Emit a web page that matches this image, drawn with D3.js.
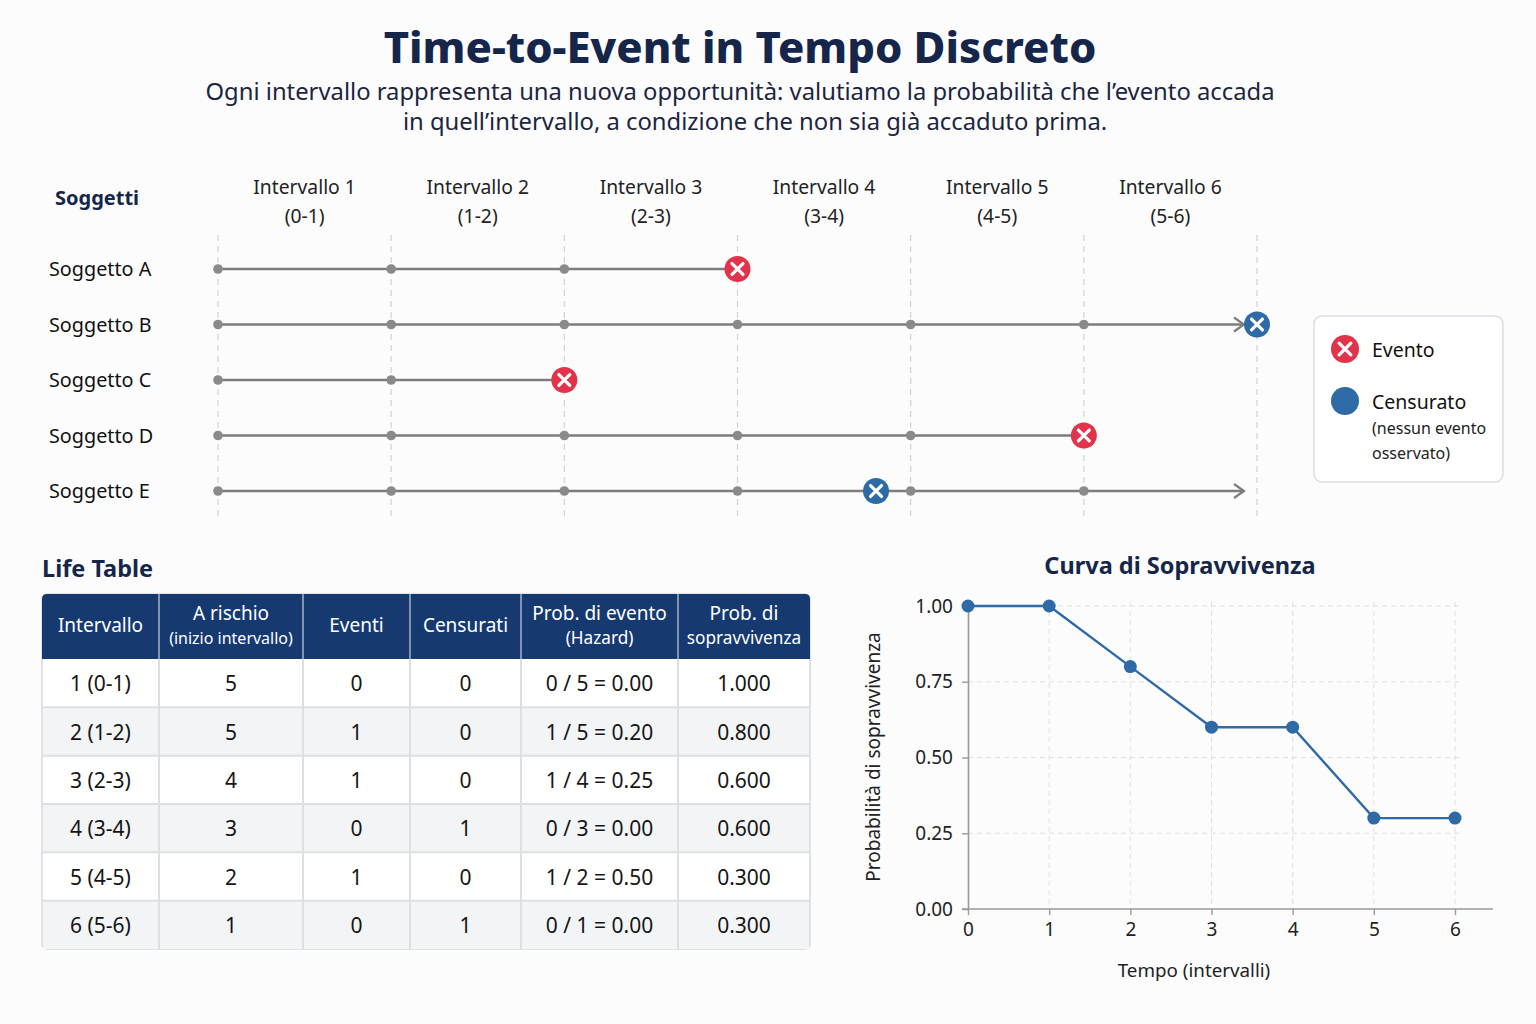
<!DOCTYPE html>
<meta charset="utf-8">
<script src="https://d3js.org/d3.v7.min.js"></script>
<style>
  body { margin: 0; background: #fcfcfd; }
  svg text { font-family: "Noto Sans", Lato, sans-serif; }
</style>
<body>
  <div id="container"></div>
</body>
<script>
    // --- data ---
    var intervalNames = ["Intervallo 1", "Intervallo 2", "Intervallo 3", "Intervallo 4", "Intervallo 5", "Intervallo 6"];
    var intervalRanges = ["(0-1)", "(1-2)", "(2-3)", "(3-4)", "(4-5)", "(5-6)"];

    var subjects = ["Soggetto A", "Soggetto B", "Soggetto C", "Soggetto D", "Soggetto E"];
    var subjectLineEnd = [3, 6, 2, 5, 6];          // where the follow-up line stops
    var subjectMarkAt = [3, 6, 2, 5, 3.8];         // where the outcome marker sits
    var subjectOutcome = ["evento", "censurato", "evento", "evento", "censurato"];
    var subjectArrow = [false, true, false, false, true];

    var tableHeaders = [["Intervallo"], ["A rischio", "(inizio intervallo)"], ["Eventi"], ["Censurati"],
                        ["Prob. di evento", "(Hazard)"], ["Prob. di", "sopravvivenza"]];
    var tableIntervals = ["1 (0-1)", "2 (1-2)", "3 (2-3)", "4 (3-4)", "5 (4-5)", "6 (5-6)"];
    var atRisk = [5, 5, 4, 3, 2, 1];
    var events = [0, 1, 1, 0, 1, 0];
    var censored = [0, 0, 0, 1, 0, 1];
    var survival = [1.000, 0.800, 0.600, 0.600, 0.300, 0.300];

    var curveTime = [0, 1, 2, 3, 4, 5, 6];
    var curveSurv = [1.00, 1.00, 0.80, 0.60, 0.60, 0.30, 0.30];
    var yTicks = [0, 0.25, 0.5, 0.75, 1];

    var navy = "#15264a", red = "#e1344a", blue = "#2e6aa6", grey = "#7d7d7d";

    var svg = d3.select("#container")
      .append("svg")
      .attr("width", 1536)
      .attr("height", 1024);

    // title
    svg.append("text")
      .attr("x", 740).attr("y", 63)
      .attr("text-anchor", "middle")
      .attr("font-size", 43.5).attr("font-weight", 800)
      .attr("fill", navy)
      .text("Time-to-Event in Tempo Discreto");
    svg.append("text")
      .attr("x", 740).attr("y", 100)
      .attr("text-anchor", "middle").attr("font-size", 23.8).attr("fill", "#1c2540")
      .text("Ogni intervallo rappresenta una nuova opportunità: valutiamo la probabilità che l’evento accada");
    svg.append("text")
      .attr("x", 755).attr("y", 130)
      .attr("text-anchor", "middle").attr("font-size", 23.8).attr("fill", "#1c2540")
      .text("in quell’intervallo, a condizione che non sia già accaduto prima.");

    // ---------- timeline ----------
    var xT = d3.scaleLinear().domain([0, 6]).range([218, 1257]);
    var yS = d3.scalePoint().domain(subjects).range([269, 491]);

    svg.append("text")
      .attr("x", 55).attr("y", 205)
      .attr("font-size", 20).attr("font-weight", 700).attr("fill", navy)
      .text("Soggetti");

    var head = svg.append("g").selectAll("g")
      .data(intervalNames).enter().append("g");
    head.append("text")
      .attr("x", function(d, i) { return xT(i + 0.5); })
      .attr("y", 194).attr("text-anchor", "middle").attr("font-size", 19.3).attr("fill", "#222")
      .text(function(d) { return d; });
    head.append("text")
      .attr("x", function(d, i) { return xT(i + 0.5); })
      .attr("y", 223).attr("text-anchor", "middle").attr("font-size", 19.3).attr("fill", "#222")
      .text(function(d, i) { return intervalRanges[i]; });

    svg.append("g").selectAll("line")
      .data(d3.range(0, 7)).enter().append("line")
      .attr("x1", function(d) { return xT(d); }).attr("x2", function(d) { return xT(d); })
      .attr("y1", 235).attr("y2", 520)
      .attr("stroke", "#cfd2d6").attr("stroke-width", 1.2)
      .attr("stroke-dasharray", "6,5");

    function xMark(g, x, y, r, color, cross) {
      g.append("circle").attr("cx", x).attr("cy", y).attr("r", r).attr("fill", color);
      if (cross) {
        var k = r * 0.42;
        g.append("path")
          .attr("d", "M" + (x - k) + "," + (y - k) + "L" + (x + k) + "," + (y + k) +
                     "M" + (x + k) + "," + (y - k) + "L" + (x - k) + "," + (y + k))
          .attr("stroke", "white").attr("stroke-width", 3.2).attr("stroke-linecap", "round");
      }
    }

    subjects.forEach(function(s, i) {
      var y = yS(s);
      var g = svg.append("g");
      g.append("text")
        .attr("x", 49).attr("y", y + 7)
        .attr("font-size", 19.8).attr("fill", "#111")
        .text(s);
      var endX = subjectArrow[i] ? xT(subjectLineEnd[i]) - 13 : xT(subjectLineEnd[i]);
      g.append("line")
        .attr("x1", xT(0)).attr("x2", endX)
        .attr("y1", y).attr("y2", y)
        .attr("stroke", grey).attr("stroke-width", 2.6);
      if (subjectArrow[i]) {
        g.append("path")
          .attr("d", "M" + (endX - 10) + "," + (y - 7) + "L" + endX + "," + y + "L" + (endX - 10) + "," + (y + 7))
          .attr("fill", "none").attr("stroke", grey).attr("stroke-width", 2.2);
      }
      g.selectAll("circle.dot")
        .data(d3.range(0, 6).filter(function(t) { return t < subjectLineEnd[i] && t !== subjectMarkAt[i]; }))
        .enter().append("circle").attr("class", "dot")
        .attr("cx", function(t) { return xT(t); }).attr("cy", y).attr("r", 4.8)
        .attr("fill", "#8a8a8a");
      xMark(g, xT(subjectMarkAt[i]), y, 13, subjectOutcome[i] === "evento" ? red : blue, true);
    });

    // legend
    var lg = svg.append("g");
    lg.append("rect")
      .attr("x", 1314).attr("y", 316).attr("width", 189).attr("height", 166).attr("rx", 8)
      .attr("fill", "white").attr("stroke", "#d9dde2").attr("stroke-width", 1.5);
    xMark(lg, 1345, 349, 14, red, true);
    xMark(lg, 1345, 401, 14, blue, false);
    lg.append("text").attr("x", 1372).attr("y", 357).attr("font-size", 19.5).attr("fill", "#111").text("Evento");
    lg.append("text").attr("x", 1372).attr("y", 409).attr("font-size", 19.5).attr("fill", "#111").text("Censurato");
    lg.append("text").attr("x", 1372).attr("y", 434).attr("font-size", 16).attr("fill", "#222").text("(nessun evento");
    lg.append("text").attr("x", 1372).attr("y", 459).attr("font-size", 16).attr("fill", "#222").text("osservato)");

    // ---------- life table ----------
    svg.append("text")
      .attr("x", 42).attr("y", 577)
      .attr("font-size", 23.5).attr("font-weight", 700).attr("fill", navy)
      .text("Life Table");

    var colEdges = [42, 159, 303, 410, 521, 678, 810];
    var headTop = 594, headBottom = 659;
    var yRow = d3.scaleBand().domain(d3.range(6)).range([headBottom, 949]);

    var rows = tableIntervals.map(function(d, i) {
      return [d, atRisk[i], events[i], censored[i],
              events[i] + " / " + atRisk[i] + " = " + (events[i] / atRisk[i]).toFixed(2),
              survival[i].toFixed(3)];
    });

    var tbl = svg.append("g");
    tbl.append("rect")
      .attr("x", colEdges[0]).attr("y", headTop)
      .attr("width", colEdges[6] - colEdges[0]).attr("height", 949 - headTop)
      .attr("rx", 5).attr("fill", "white").attr("stroke", "#d5d9de").attr("stroke-width", 1.5);
    tbl.selectAll("rect.row")
      .data(rows).enter().append("rect").attr("class", "row")
      .attr("x", colEdges[0] + 1).attr("y", function(d, i) { return yRow(i); })
      .attr("width", colEdges[6] - colEdges[0] - 2).attr("height", yRow.bandwidth())
      .attr("fill", function(d, i) { return i % 2 ? "#f3f4f6" : "#ffffff"; });
    tbl.append("path")
      .attr("d", "M" + colEdges[0] + "," + (headBottom) + "V" + (headTop + 5) +
                 "Q" + colEdges[0] + "," + headTop + " " + (colEdges[0] + 5) + "," + headTop +
                 "H" + (colEdges[6] - 5) + "Q" + colEdges[6] + "," + headTop + " " + colEdges[6] + "," + (headTop + 5) +
                 "V" + headBottom + "Z")
      .attr("fill", "#163a70");
    // grid lines
    tbl.selectAll("line.h")
      .data(d3.range(1, 6)).enter().append("line").attr("class", "h")
      .attr("x1", colEdges[0]).attr("x2", colEdges[6])
      .attr("y1", function(i) { return yRow(i); }).attr("y2", function(i) { return yRow(i); })
      .attr("stroke", "#dcdfe3").attr("stroke-width", 2);
    tbl.selectAll("line.v")
      .data(colEdges.slice(1, 6)).enter().append("line").attr("class", "v")
      .attr("x1", function(d) { return d; }).attr("x2", function(d) { return d; })
      .attr("y1", headBottom).attr("y2", 949)
      .attr("stroke", "#dcdfe3").attr("stroke-width", 2);
    tbl.selectAll("line.vh")
      .data(colEdges.slice(1, 6)).enter().append("line").attr("class", "vh")
      .attr("x1", function(d) { return d; }).attr("x2", function(d) { return d; })
      .attr("y1", headTop).attr("y2", headBottom)
      .attr("stroke", "#c9d3e2").attr("stroke-width", 1.2);

    tableHeaders.forEach(function(h, c) {
      var cx = (colEdges[c] + colEdges[c + 1]) / 2;
      if (h.length === 1) {
        tbl.append("text").attr("x", cx).attr("y", 632)
          .attr("text-anchor", "middle").attr("font-size", 19).attr("fill", "white").text(h[0]);
      } else {
        tbl.append("text").attr("x", cx).attr("y", 620)
          .attr("text-anchor", "middle").attr("font-size", 19).attr("fill", "white").text(h[0]);
        tbl.append("text").attr("x", cx).attr("y", 644)
          .attr("text-anchor", "middle").attr("font-size", c === 1 ? 16 : 17.2).attr("fill", "white").text(h[1]);
      }
    });

    rows.forEach(function(r, i) {
      r.forEach(function(v, c) {
        tbl.append("text")
          .attr("x", (colEdges[c] + colEdges[c + 1]) / 2)
          .attr("y", yRow(i) + yRow.bandwidth() / 2 + 8)
          .attr("text-anchor", "middle").attr("font-size", 21).attr("fill", "#151515")
          .text(v);
      });
    });

    // ---------- survival curve ----------
    var x = d3.scaleLinear().domain([0, 6]).range([968, 1455]);
    var y = d3.scaleLinear().domain([0, 1]).range([909, 606]);

    svg.append("text")
      .attr("x", 1180).attr("y", 574).attr("text-anchor", "middle")
      .attr("font-size", 23.5).attr("font-weight", 700).attr("fill", navy)
      .text("Curva di Sopravvivenza");

    // grid
    svg.append("g").selectAll("line")
      .data(curveTime.slice(1)).enter().append("line")
      .attr("x1", function(d) { return x(d); }).attr("x2", function(d) { return x(d); })
      .attr("y1", y(1) - 4).attr("y2", y(0))
      .attr("stroke", "#dedfe2").attr("stroke-dasharray", "5,4");
    svg.append("g").selectAll("line")
      .data(yTicks.slice(1)).enter().append("line")
      .attr("x1", x(0)).attr("x2", x(6) + 6)
      .attr("y1", function(d) { return y(d); }).attr("y2", function(d) { return y(d); })
      .attr("stroke", "#dedfe2").attr("stroke-dasharray", "5,4");

    var xAxis = svg.append("g")
      .attr("transform", "translate(0," + y(0) + ")")
      .call(d3.axisBottom(x).tickValues(curveTime).tickFormat(d3.format("d")).tickSize(6).tickSizeOuter(0).tickPadding(8));
    xAxis.select(".domain").attr("d", "M" + (x(0) - 6) + ",0H1493");
    var yAxis = svg.append("g")
      .attr("transform", "translate(" + x(0) + ",0)")
      .call(d3.axisLeft(y).tickValues(yTicks).tickFormat(d3.format(".2f")).tickSize(6).tickSizeOuter(0).tickPadding(9));
    [xAxis, yAxis].forEach(function(a) {
      a.select(".domain").attr("stroke", "#9a9a9a").attr("stroke-width", 1.6);
      a.selectAll(".tick line").attr("stroke", "#9a9a9a").attr("stroke-width", 1.4);
      a.selectAll(".tick text").attr("font-size", 19).attr("fill", "#222")
        .attr("font-family", "'Noto Sans', Lato, sans-serif");
    });

    svg.append("path")
      .datum(curveTime)
      .attr("fill", "none").attr("stroke", blue).attr("stroke-width", 2.4)
      .attr("d", d3.line()
        .x(function(d, i) { return x(d); })
        .y(function(d, i) { return y(curveSurv[i]); }));
    svg.append("g").selectAll("circle")
      .data(curveTime).enter().append("circle")
      .attr("cx", function(d) { return x(d); })
      .attr("cy", function(d, i) { return y(curveSurv[i]); })
      .attr("r", 6.5).attr("fill", blue);

    svg.append("text")
      .attr("x", 1194).attr("y", 977).attr("text-anchor", "middle")
      .attr("font-size", 18.8).attr("fill", "#222")
      .text("Tempo (intervalli)");
    svg.append("text")
      .attr("transform", "translate(880,757) rotate(-90)")
      .attr("text-anchor", "middle").attr("font-size", 19).attr("fill", "#222")
      .text("Probabilità di sopravvivenza");
</script>
